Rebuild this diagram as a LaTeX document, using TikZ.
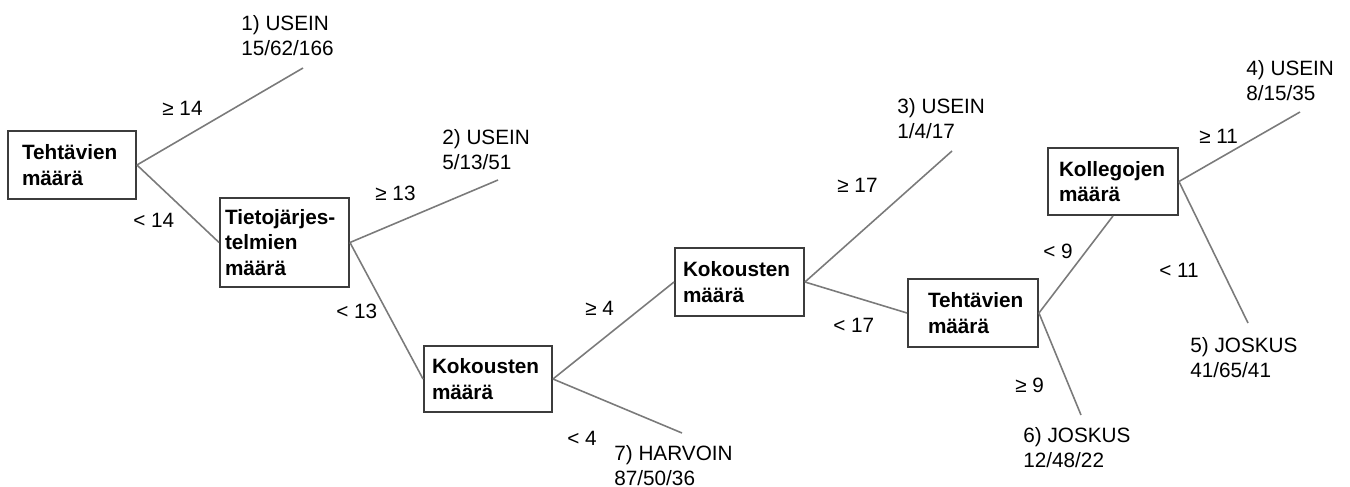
\documentclass[tikz,border=0pt]{standalone}
\usepackage{fontspec}
\setmainfont{Liberation Sans}
\hyphenpenalty=10000
\definecolor{boxline}{HTML}{3C3C3C}
\definecolor{branch}{HTML}{7A7A7A}
\tikzset{
  split/.style={draw=boxline, line width=1.1pt, inner sep=0pt, align=left,
    font=\fontsize{11.8}{14.5}\selectfont\bfseries},
  leaf/.style={anchor=base west, inner sep=0pt, align=left,
    font=\fontsize{11.8}{14.2}\selectfont},
  cond/.style={anchor=base west, inner sep=0pt, font=\fontsize{11.8}{14}\selectfont},
  branchline/.style={draw=branch, line width=0.9pt}
}
\begin{document}
\begin{tikzpicture}[x=0.02cm, y=-0.02cm]
  \useasboundingbox (0,0) rectangle (1350,487);
  % split nodes of the tree
  \node[split, minimum width=2.56cm, minimum height=1.36cm, text width=2.0cm] (teht1) at (72,165) {Tehtävien\\määrä};
  \node[split, minimum width=2.58cm, minimum height=1.78cm, text width=2.38cm] (tieto) at (284.5,242.5) {Tietojärjes-\\telmien\\määrä};
  \node[split, minimum width=2.56cm, minimum height=1.32cm, text width=2.24cm] (kok1) at (488,379) {Kokousten\\määrä};
  \node[split, minimum width=2.58cm, minimum height=1.36cm, text width=2.26cm] (kok2) at (739.5,282) {Kokousten\\määrä};
  \node[split, minimum width=2.6cm, minimum height=1.36cm, text width=1.8cm] (teht2) at (973,313) {Tehtävien\\määrä};
  \node[split, minimum width=2.6cm, minimum height=1.34cm, text width=2.16cm] (koll) at (1113,181.5) {Kollegojen\\määrä};
  % free ends of the branches
  \coordinate (e1) at (303,68);
  \coordinate (e2) at (498,180);
  \coordinate (e3) at (952,151);
  \coordinate (e4) at (1300,112);
  \coordinate (e5) at (1248,323);
  \coordinate (e6) at (1081,415);
  \coordinate (e7) at (682,433);
  % branches
  \draw[branchline] (teht1.east) -- (e1);
  \draw[branchline] (teht1.east) -- (tieto.west);
  \draw[branchline] (tieto.east) -- (e2);
  \draw[branchline] (tieto.east) -- (kok1.west);
  \draw[branchline] (kok1.east) -- (kok2.west);
  \draw[branchline] (kok1.east) -- (e7);
  \draw[branchline] (kok2.east) -- (e3);
  \draw[branchline] (kok2.east) -- (teht2.west);
  \draw[branchline] (teht2.east) -- (koll.south);
  \draw[branchline] (teht2.east) -- (e6);
  \draw[branchline] (koll.east) -- (e4);
  \draw[branchline] (koll.east) -- (e5);
  % split conditions
  \node[cond] (ge14) at (162,115) {≥ 14};
  \node[cond] (lt14) at (133,227) {< 14};
  \node[cond] (ge13) at (375,200) {≥ 13};
  \node[cond] (lt13) at (336,318) {< 13};
  \node[cond] (ge4) at (585,315) {≥ 4};
  \node[cond] (lt4) at (567,445) {< 4};
  \node[cond] (ge17) at (837,192) {≥ 17};
  \node[cond] (lt17) at (833,332) {< 17};
  \node[cond] (lt9) at (1043,258) {< 9};
  \node[cond] (ge9) at (1015,392) {≥ 9};
  \node[cond] (ge11) at (1199,143) {≥ 11};
  \node[cond] (lt11) at (1159,277) {< 11};
  % leaves (anchored at the baseline of the second line)
  \node[leaf] (leaf1) at (241,55) {1) USEIN\\15/62/166};
  \node[leaf] (leaf2) at (442,169) {2) USEIN\\5/13/51};
  \node[leaf] (leaf3) at (897,138) {3) USEIN\\1/4/17};
  \node[leaf] (leaf4) at (1246,100) {4) USEIN\\8/15/35};
  \node[leaf] (leaf5) at (1190,377) {5) JOSKUS\\41/65/41};
  \node[leaf] (leaf6) at (1023,467) {6) JOSKUS\\12/48/22};
  \node[leaf] (leaf7) at (614,485) {7) HARVOIN\\87/50/36};
\end{tikzpicture}
\end{document}
